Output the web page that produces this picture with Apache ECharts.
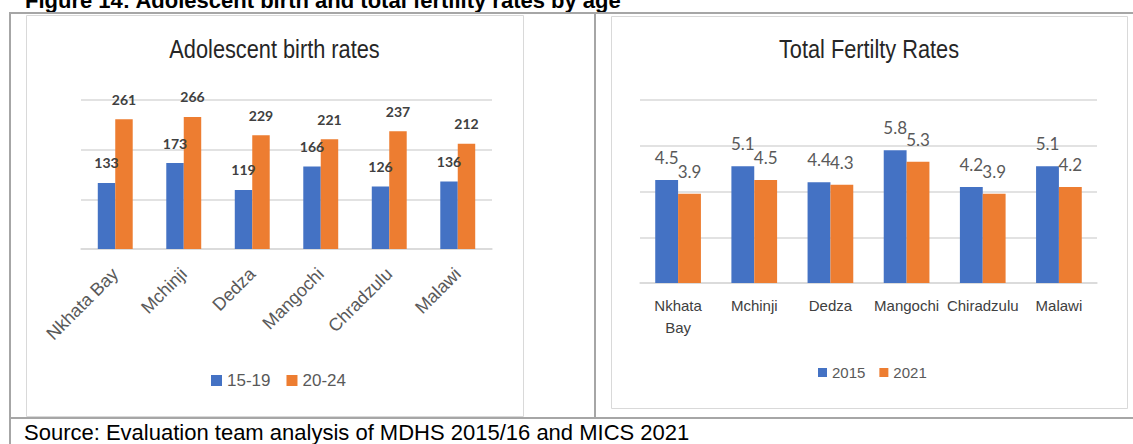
<!DOCTYPE html>
<html>
<head>
<meta charset="utf-8">
<script src="https://cdn.jsdelivr.net/npm/echarts@6/dist/echarts.min.js"></script>
<style>
  html, body { margin: 0; padding: 0; background: #ffffff; }
  #chart { width: 1133px; height: 444px; }
</style>
</head>
<body>
<div id="chart"></div>
<script>
// Districts on each panel
const birthDistricts = ['Nkhata Bay', 'Mchinji', 'Dedza', 'Mangochi', 'Chradzulu', 'Malawi'];
const tfrDistricts = ['Nkhata Bay', 'Mchinji', 'Dedza', 'Mangochi', 'Chiradzulu', 'Malawi'];

// Adolescent birth rates (births per 1,000 women)
const birthRate1519 = [133, 173, 119, 166, 126, 136];
const birthRate2024 = [261, 266, 229, 221, 237, 212];

// Total fertility rates
const tfr2015 = [4.5, 5.1, 4.4, 5.8, 4.2, 5.1];
const tfr2021 = [3.9, 4.5, 4.3, 5.3, 3.9, 4.2];

// Value-axis gridline steps (unlabelled)
const birthTicks = [0, 100, 200, 300];
const tfrTicks = [0, 2, 4, 6, 8];

const BLUE = '#4472C4';
const ORANGE = '#ED7D31';
const GRID = '#d9d9d9';
const SANS = "'Liberation Sans', Arial, sans-serif";

function textEl(text, x, y, font, fill, align, scaleX) {
  return {
    type: 'text', x: x, y: y, scaleX: scaleX || 1, silent: true,
    style: {
      text: text, font: font, fill: fill,
      align: align || 'center', verticalAlign: 'middle',
      textAlign: align || 'center', textVerticalAlign: 'middle'
    }
  };
}
function lineEl(x1, y1, x2, y2, color, w) {
  return { type: 'line', silent: true, shape: { x1: x1, y1: y1, x2: x2, y2: y2 },
           style: { stroke: color, lineWidth: w } };
}
function boxEl(x, y, w, h) {
  return { type: 'rect', silent: true, shape: { x: x, y: y, width: w, height: h },
           style: { fill: 'none', stroke: '#d9d9d9', lineWidth: 1 } };
}

const chart = echarts.init(document.getElementById('chart'), null, { renderer: 'svg' });

const valueAxis = (ticks, gridIndex) => ({
  type: 'value', gridIndex: gridIndex,
  min: ticks[0], max: ticks[ticks.length - 1], interval: ticks[1] - ticks[0],
  axisLabel: { show: false }, axisLine: { show: false }, axisTick: { show: false },
  splitLine: { lineStyle: { color: GRID, width: 1.5 } }
});

chart.setOption({
  animation: false,
  grid: [
    { left: 81, top: 100, width: 411, height: 149 },
    { left: 640, top: 100, width: 457, height: 183 }
  ],
  xAxis: [
    {
      type: 'category', gridIndex: 0, data: birthDistricts,
      axisTick: { show: false },
      axisLine: { lineStyle: { color: GRID, width: 1.5 } },
      axisLabel: { interval: 0, rotate: 45, margin: 22, fontSize: 18, fontFamily: SANS, color: '#595959' }
    },
    {
      type: 'category', gridIndex: 1, data: tfrDistricts,
      axisTick: { show: false },
      axisLine: { lineStyle: { color: GRID, width: 1.5 } },
      axisLabel: {
        interval: 0, margin: 11, fontSize: 15, lineHeight: 22, fontFamily: SANS, color: '#404040',
        formatter: v => v.replace(' ', '\n')
      }
    }
  ],
  yAxis: [valueAxis(birthTicks, 0), valueAxis(tfrTicks, 1)],
  legend: [
    {
      data: ['15-19', '20-24'], left: 211, top: 372, padding: 0,
      icon: 'rect', itemWidth: 11, itemHeight: 11, itemGap: 16,
      textStyle: { fontSize: 17, fontFamily: SANS, color: '#595959' }
    },
    {
      data: ['2015', '2021'], left: 818, top: 365, padding: 0,
      icon: 'rect', itemWidth: 9, itemHeight: 9, itemGap: 14,
      textStyle: { fontSize: 15, fontFamily: SANS, color: '#595959' }
    }
  ],
  series: [
    {
      name: '15-19', type: 'bar', xAxisIndex: 0, yAxisIndex: 0, data: birthRate1519,
      itemStyle: { color: BLUE }, barGap: '0%', barCategoryGap: '49%',
      label: { show: true, position: 'top', distance: 13, fontSize: 14, fontWeight: 'bold',
               fontFamily: 'Lato, sans-serif', color: '#404040' }
    },
    {
      name: '20-24', type: 'bar', xAxisIndex: 0, yAxisIndex: 0, data: birthRate2024,
      itemStyle: { color: ORANGE }, barGap: '0%', barCategoryGap: '49%',
      label: { show: true, position: 'top', distance: 13, fontSize: 14, fontWeight: 'bold',
               fontFamily: 'Lato, sans-serif', color: '#404040' }
    },
    {
      name: '2015', type: 'bar', xAxisIndex: 1, yAxisIndex: 1, data: tfr2015,
      itemStyle: { color: BLUE }, barGap: '0%', barCategoryGap: '40%',
      label: { show: true, position: 'top', distance: 14, fontSize: 17,
               fontFamily: 'Lato, sans-serif', color: '#595959' }
    },
    {
      name: '2021', type: 'bar', xAxisIndex: 1, yAxisIndex: 1, data: tfr2021,
      itemStyle: { color: ORANGE }, barGap: '0%', barCategoryGap: '40%',
      label: { show: true, position: 'top', distance: 14, fontSize: 17,
               fontFamily: 'Lato, sans-serif', color: '#595959' }
    }
  ],
  graphic: [
    // figure caption, partly above the page edge
    textEl('Figure 14: Adolescent birth and total fertility rates by age', 25, 0,
           'bold 22px ' + SANS, '#000000', 'left'),
    // table frame
    lineEl(9, 13, 1133, 13, '#a6a6a6', 2),
    lineEl(9, 418, 1133, 418, '#a6a6a6', 2),
    lineEl(10, 13, 10, 444, '#a6a6a6', 2),
    lineEl(595, 13, 595, 418, '#a6a6a6', 2),
    // chart panels
    boxEl(26.5, 15.5, 497, 401),
    boxEl(611.5, 16.5, 516, 392),
    textEl('Adolescent birth rates', 274.5, 49, '25px ' + SANS, '#262626', 'center', 0.87),
    textEl('Total Fertilty Rates', 869, 49, '25px ' + SANS, '#262626', 'center', 0.87),
    // source line
    textEl('Source: Evaluation team analysis of MDHS 2015/16 and MICS 2021', 24, 432,
           '22px ' + SANS, '#000000', 'left')
  ]
});
</script>
</body>
</html>
